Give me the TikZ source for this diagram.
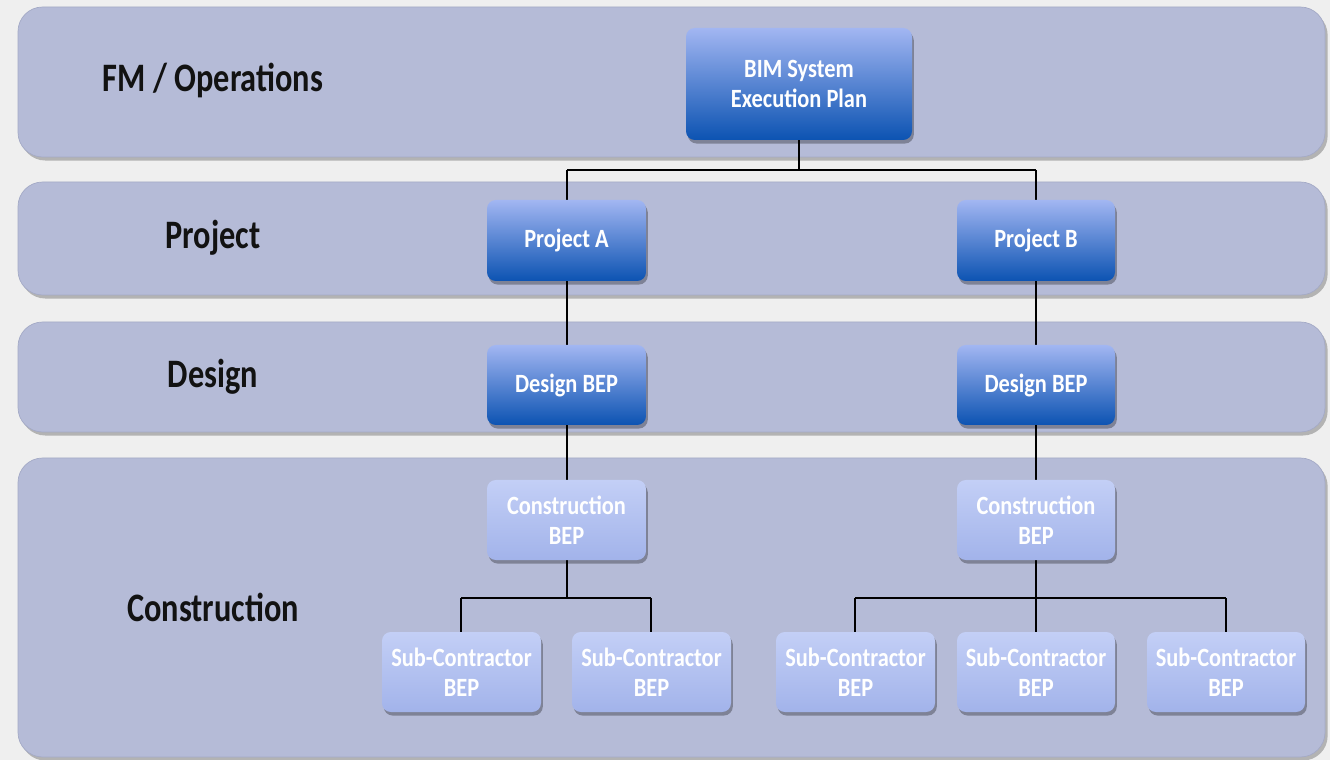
\documentclass[tikz,border=0pt]{standalone}
\usepackage{fontspec}
\setmainfont{Carlito}
\newfontfamily\labfont[FakeStretch=0.8]{Carlito}
\newfontfamily\boxfont[FakeStretch=0.85]{Carlito}
\usetikzlibrary{shadows}
\definecolor{pagebg}{HTML}{EFEFEF}
\definecolor{bandfill}{HTML}{B5BBD7}
\definecolor{bandedge}{HTML}{A4AAC6}
\definecolor{darktop}{HTML}{A2B6F2}
\definecolor{darkbot}{HTML}{0C53B2}
\definecolor{lighttop}{HTML}{C3CFF6}
\definecolor{lightbot}{HTML}{A2B3EA}
\definecolor{labtext}{HTML}{121212}
\tikzset{
  x=0.02cm, y=-0.02cm,
  band/.style={draw=bandedge, line width=0.4pt, fill=bandfill, rounded corners=14pt,
    drop shadow={shadow xshift=1.5pt, shadow yshift=-2pt, opacity=0.25, fill=black}},
  bandlabel/.style={font=\labfont\bfseries\fontsize{23}{26}\selectfont, text=labtext, anchor=center},
  mainbox/.style={rounded corners=5pt, top color=darktop, bottom color=darkbot, draw=none,
    text=white, align=center, font=\boxfont\bfseries\fontsize{15}{17}\selectfont,
    drop shadow={shadow xshift=1pt, shadow yshift=-2pt, opacity=0.3, fill=black}},
  subbox/.style={rounded corners=5pt, top color=lighttop, bottom color=lightbot, draw=none,
    text=white, align=center, font=\boxfont\bfseries\fontsize{15}{17}\selectfont,
    drop shadow={shadow xshift=1pt, shadow yshift=-2pt, opacity=0.3, fill=black}},
  link/.style={draw=black, line width=1.4pt}
}
\newcommand{\bx}[7]{% style, name, x1, y1, x2, y2, text
  \path[#1] (#3,#4) rectangle (#5,#6);
  \node[align=center, text=white, font=\boxfont\bfseries\fontsize{15}{17}\selectfont] (#2) at ({(#3+#5)/2},{(#4+#6)/2}) {#7};
  \coordinate (#2-t) at ({(#3+#5)/2},#4);
  \coordinate (#2-b) at ({(#3+#5)/2},#6);
}
\begin{document}
\begin{tikzpicture}
\fill[pagebg] (0,0) rectangle (1330,760);
\useasboundingbox (0,0) rectangle (1330,760);

% horizontal bands
\path[band] (18,7) rectangle (1325,157);
\path[band] (18,182) rectangle (1325,295);
\path[band] (18,322) rectangle (1325,432);
\path[band] (18,458) rectangle (1325,757);

\node[bandlabel] (lfm) at (213,80) {FM / Operations};
\node[bandlabel] (lpr) at (213,238) {Project};
\node[bandlabel] (lde) at (213,377) {Design};
\node[bandlabel] (lco) at (213,607) {Construction};

% connectors (drawn first so boxes sit on top)
\coordinate (j0) at (799,170);
\coordinate (j0a) at (567,170);
\coordinate (j0b) at (1036,170);
\coordinate (j1) at (567,598);
\coordinate (j1a) at (461,598);
\coordinate (j1b) at (651,598);
\coordinate (j2) at (1036,598);
\coordinate (j2a) at (855,598);
\coordinate (j2b) at (1226,598);
\coordinate (j2c) at (1036,598);

\draw[link] (799,140) -- (j0);
\draw[link] (j0a) -- (j0b);
\draw[link] (j0a) -- (567,200);
\draw[link] (j0b) -- (1036,200);
\draw[link] (567,281) -- (567,345);
\draw[link] (1036,281) -- (1036,345);
\draw[link] (567,425) -- (567,480);
\draw[link] (1036,425) -- (1036,480);
\draw[link] (567,560) -- (j1);
\draw[link] (j1a) -- (j1b);
\draw[link] (j1a) -- (461,632);
\draw[link] (j1b) -- (651,632);
\draw[link] (1036,560) -- (j2);
\draw[link] (j2a) -- (j2b);
\draw[link] (j2a) -- (855,632);
\draw[link] (j2c) -- (1036,632);
\draw[link] (j2b) -- (1226,632);

% boxes
\bx{mainbox}{bim}{686}{28}{912}{140}{BIM System\\Execution Plan}
\bx{mainbox}{pa}{487}{200}{646}{281}{Project A}
\bx{mainbox}{pb}{957}{200}{1115}{281}{Project B}
\bx{mainbox}{da}{487}{345}{646}{425}{Design BEP}
\bx{mainbox}{db}{957}{345}{1115}{425}{Design BEP}
\bx{subbox}{ca}{487}{480}{646}{560}{Construction\\BEP}
\bx{subbox}{cb}{957}{480}{1115}{560}{Construction\\BEP}
\bx{subbox}{s1}{382}{632}{541}{712}{Sub-Contractor\\BEP}
\bx{subbox}{s2}{572}{632}{731}{712}{Sub-Contractor\\BEP}
\bx{subbox}{s3}{776}{632}{935}{712}{Sub-Contractor\\BEP}
\bx{subbox}{s4}{957}{632}{1115}{712}{Sub-Contractor\\BEP}
\bx{subbox}{s5}{1147}{632}{1305}{712}{Sub-Contractor\\BEP}
\end{tikzpicture}
\end{document}
